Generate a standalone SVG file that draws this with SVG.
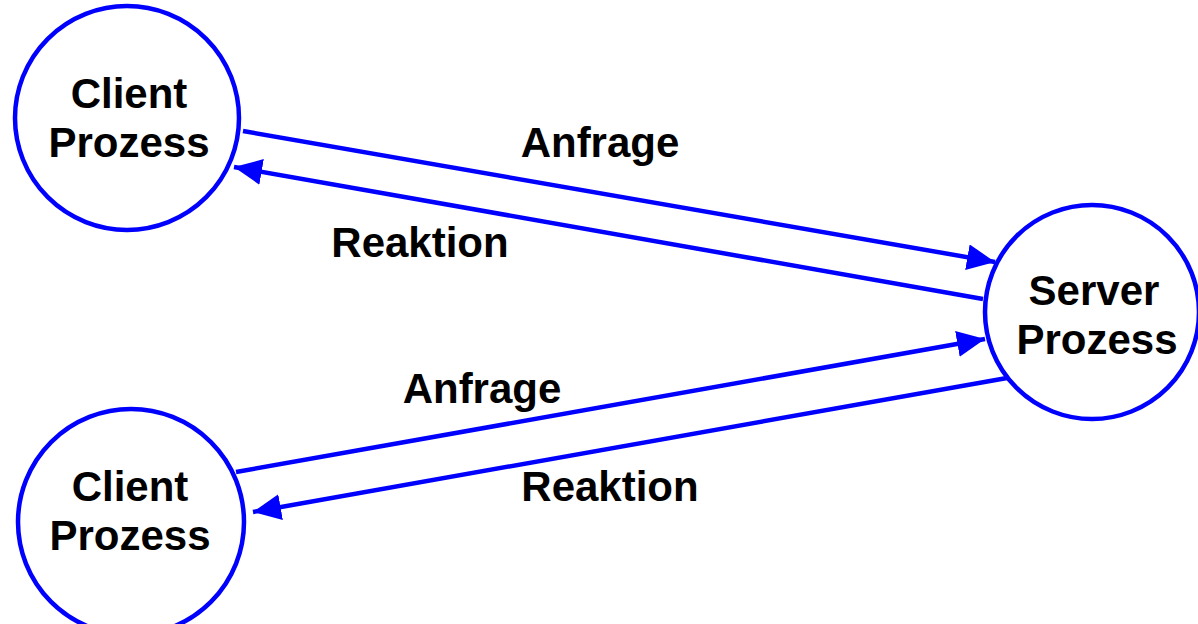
<svg xmlns="http://www.w3.org/2000/svg" width="1198" height="624" viewBox="0 0 1198 624">
<style>
.node{fill:#fff;stroke:#0000ff;stroke-width:4.5}
.t{font-family:"Liberation Sans",Arial,sans-serif;font-weight:bold;font-size:42px;fill:#000;text-anchor:middle}
.c{stroke:#0000ff;stroke-width:4.5;fill:none;marker-end:url(#ah)}
</style>
<defs>
<marker id="ah" markerUnits="userSpaceOnUse" markerWidth="30" markerHeight="28" refX="28" refY="13" orient="auto">
<path d="M0,0 L28,13 L0,26 Z" fill="#0000ff"/>
</marker>
</defs>
<rect width="1198" height="624" fill="#fff"/>
<g id="client1">
<circle class="node" cx="127" cy="118" r="112"/>
<text class="t" x="129" y="108">Client</text>
<text class="t" x="129" y="157">Prozess</text>
</g>
<g id="server">
<circle class="node" cx="1092" cy="312" r="107"/>
<text class="t" x="1094" y="305">Server</text>
<text class="t" x="1097" y="354">Prozess</text>
</g>
<g id="client2">
<circle class="node" cx="131" cy="522" r="113"/>
<text class="t" x="130" y="501">Client</text>
<text class="t" x="130" y="550">Prozess</text>
</g>
<g id="connectors">
<line class="c" x1="243" y1="131" x2="995" y2="262"/>
<line class="c" x1="983" y1="299" x2="234" y2="167"/>
<line class="c" x1="236" y1="472" x2="985" y2="339"/>
<line class="c" x1="1007" y1="378" x2="253" y2="512"/>
</g>
<g id="labels">
<text class="t" x="600" y="157">Anfrage</text>
<text class="t" x="420" y="257">Reaktion</text>
<text class="t" x="482" y="403">Anfrage</text>
<text class="t" x="610" y="501">Reaktion</text>
</g>
</svg>
